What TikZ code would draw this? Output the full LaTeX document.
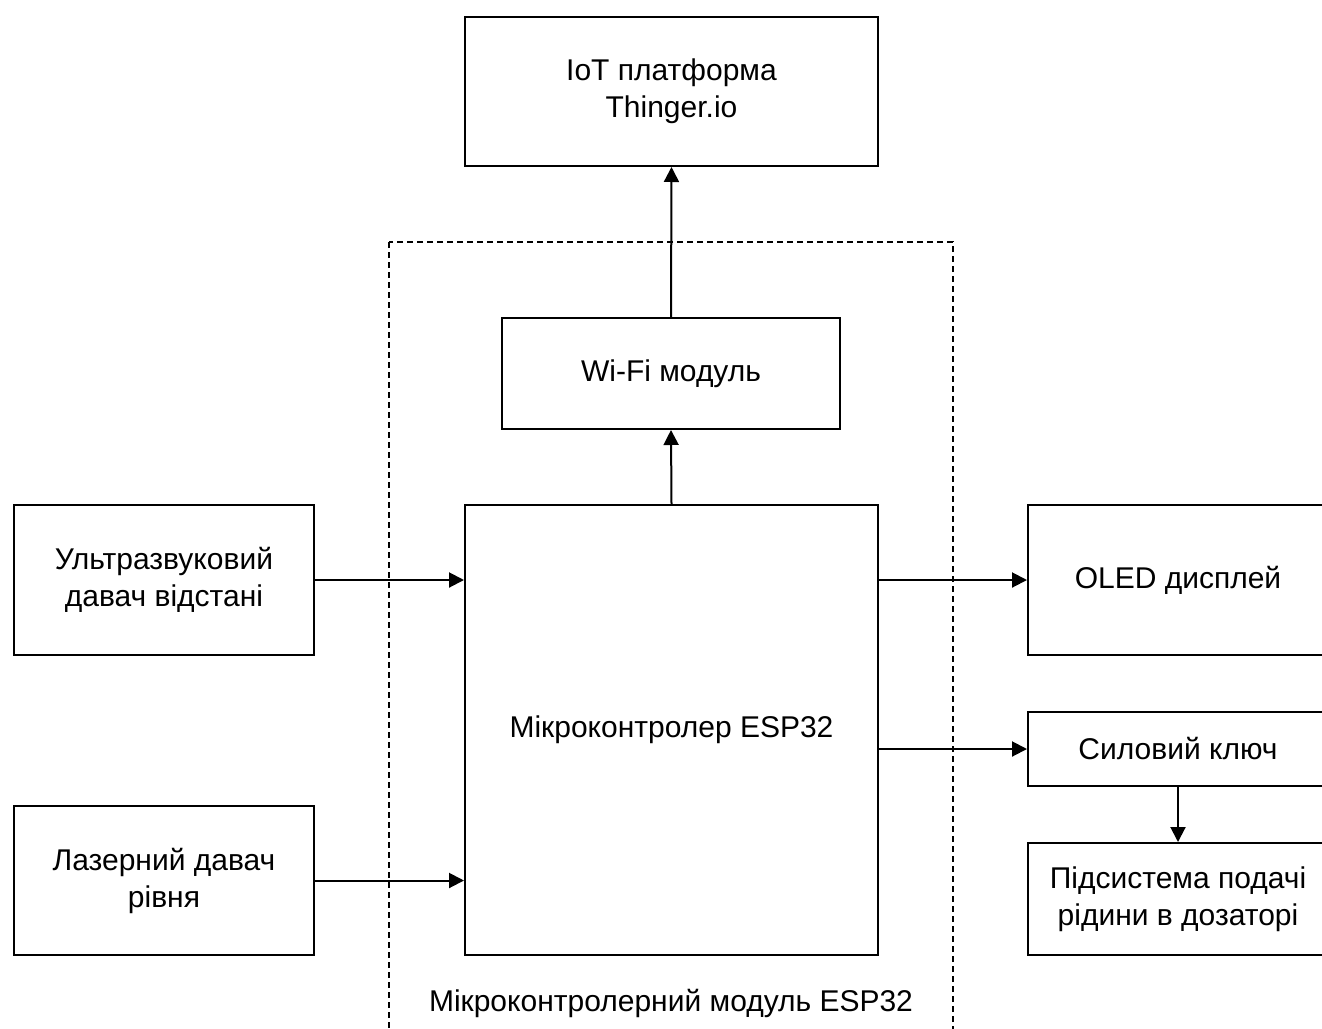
\documentclass[tikz,border=0pt]{standalone}
\usepackage{fontspec}
\setmainfont{Liberation Sans}
\usetikzlibrary{arrows.meta}
\begin{document}
\begin{tikzpicture}[x=1pt,y=-1pt,
  blk/.style={draw=black, line width=2pt, rectangle, inner sep=0pt, align=center,
    font=\fontsize{30}{37}\selectfont},
  conn/.style={line width=2pt, -{Triangle[length=15pt,width=15pt]}},
  frame/.style={draw=black, line width=2pt, dash pattern=on 6pt off 4pt}]
\clip (0,0) rectangle (1322,1028);
\fill[white] (0,0) rectangle (1322,1028);
\draw[frame] (389,242) rectangle (953,1100);
\node[font=\fontsize{30}{37}\selectfont] (lbl) at (671,1003) {Мікроконтролерний модуль ESP32};
\node[blk, minimum width=413pt, minimum height=149pt] (iot) at (671.5,91.5) {IoT платформа\\Thinger.io};
\node[blk, minimum width=338pt, minimum height=111pt] (wifi) at (671,373.5) {Wi-Fi модуль};
\node[blk, minimum width=413pt, minimum height=450pt] (mcu) at (671.5,730) {Мікроконтролер ESP32};
\node[blk, minimum width=300pt, minimum height=150pt] (us) at (164,580) {Ультразвуковий\\давач відстані};
\node[blk, minimum width=300pt, minimum height=149pt] (laser) at (164,880.5) {Лазерний давач\\рівня};
\node[blk, minimum width=300pt, minimum height=150pt] (oled) at (1178,580) {OLED дисплей};
\node[blk, minimum width=300pt, minimum height=74pt] (sw) at (1178,749) {Силовий ключ};
\node[blk, minimum width=300pt, minimum height=112pt] (sub) at (1178,899) {Підсистема подачі\\рідини в дозаторі};
\draw[conn] (us.east) -- (us.east -| mcu.west);
\draw[conn] (laser.east) -- (laser.east -| mcu.west);
\draw[conn] (oled.west -| mcu.east) -- (oled.west);
\draw[conn] (sw.west -| mcu.east) -- (sw.west);
\draw[conn] (sw.south) -- (sub.north);
\draw[conn] (mcu.north) -- (wifi.south);
\draw[conn] (wifi.north) -- (iot.south);
\end{tikzpicture}
\end{document}
